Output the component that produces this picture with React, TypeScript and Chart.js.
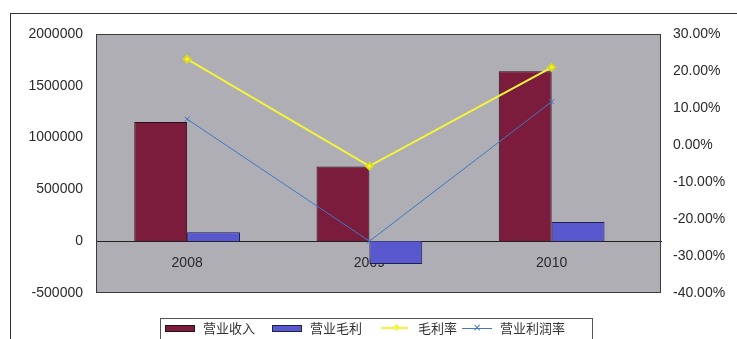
import React, { useEffect, useRef } from "react";
import { Chart, registerables } from "chart.js";

Chart.register(...registerables);

const categories = ["2008", "2009", "2010"];
const revenue = [1150000, 720000, 1640000];
const grossProfit = [86000, -220000, 186000];
const grossMargin = [0.232, -0.057, 0.21];
const operatingMargin = [0.07, -0.26, 0.117];
const leftTicks = [-500000, 0, 500000, 1000000, 1500000, 2000000];
const rightTicks = [-0.4, -0.3, -0.2, -0.1, 0, 0.1, 0.2, 0.3];

const seriesNames = ["营业收入", "营业毛利", "毛利率", "营业利润率"];

const C_RED = "#7b1c3d";
const C_BLUE = "#5a58cf";
const C_YELLOW = "#f4f43a";
const C_LINE = "#3f78c4";
const PLOT_BG = "#aeaeb4";
const TEXT = "#2a2a2a";
const AXIS_FONT = { family: "'Liberation Sans', Arial, sans-serif", size: 14 };

const plotPlugin = {
  id: "plotBg",
  beforeDraw(chart: any) {
    const { ctx, chartArea: a } = chart;
    ctx.save();
    ctx.fillStyle = PLOT_BG;
    ctx.fillRect(a.left, a.top, a.right - a.left, a.bottom - a.top);
    ctx.restore();
  },
  afterDraw(chart: any) {
    const { ctx, chartArea: a } = chart;
    ctx.save();
    ctx.strokeStyle = "#3a3a3a";
    ctx.lineWidth = 1;
    ctx.strokeRect(a.left + 0.5, a.top + 0.5, a.right - a.left - 1, a.bottom - a.top - 1);
    ctx.restore();
  },
};

export default function App() {
  const ref = useRef<HTMLCanvasElement | null>(null);

  useEffect(() => {
    if (!ref.current) return;
    const chart = new Chart(ref.current, {
      type: "bar",
      data: {
        labels: categories,
        datasets: [
          {
            type: "line",
            label: seriesNames[2],
            data: grossMargin,
            yAxisID: "y1",
            borderColor: C_YELLOW,
            backgroundColor: C_YELLOW,
            borderWidth: 2,
            pointStyle: "rectRot",
            pointRadius: 3.5,
            pointBorderColor: "#d8d820",
            pointBackgroundColor: C_YELLOW,
            order: 0,
          },
          {
            type: "line",
            label: seriesNames[3],
            data: operatingMargin,
            yAxisID: "y1",
            borderColor: C_LINE,
            backgroundColor: C_LINE,
            borderWidth: 1,
            pointStyle: "crossRot",
            pointRadius: 3.5,
            pointBorderColor: C_LINE,
            order: 0,
          },
          {
            type: "bar",
            label: seriesNames[0],
            data: revenue,
            yAxisID: "y",
            backgroundColor: C_RED,
            borderColor: "#2a1018",
            borderWidth: 1,
            categoryPercentage: 0.58,
            barPercentage: 1,
            order: 1,
          },
          {
            type: "bar",
            label: seriesNames[1],
            data: grossProfit,
            yAxisID: "y",
            backgroundColor: C_BLUE,
            borderColor: "#1e1e50",
            borderWidth: 1,
            categoryPercentage: 0.58,
            barPercentage: 1,
            order: 1,
          },
        ],
      } as any,
      options: {
        responsive: false,
        animation: false,
        layout: { padding: { top: 34, bottom: 46, left: 0, right: 0 } },
        plugins: {
          legend: { display: false },
          tooltip: { enabled: false },
        },
        scales: {
          x: {
            position: { y: 0 } as any,
            grid: { display: false, drawTicks: false },
            border: { display: true, color: "#222", width: 1 },
            ticks: { color: TEXT, font: AXIS_FONT, padding: 14, maxRotation: 0 },
            afterBuildTicks: (s: any) => {
              s._valueRange = 3.1;
            },
          },
          y: {
            position: "left",
            min: -500000,
            max: 2000000,
            grid: { display: false, drawTicks: false },
            border: { display: false },
            ticks: {
              color: TEXT,
              font: AXIS_FONT,
              padding: 13,
              callback: (v: any) => String(v),
            },
            afterBuildTicks: (s: any) => {
              s.ticks = leftTicks.map((v) => ({ value: v }));
            },
            afterFit: (s: any) => {
              s.width = 96;
            },
          },
          y1: {
            position: "right",
            min: -0.4,
            max: 0.3,
            grid: { display: false, drawTicks: false },
            border: { display: false },
            ticks: {
              color: TEXT,
              font: AXIS_FONT,
              padding: 12,
              callback: (v: any) => (Number(v) * 100).toFixed(2) + "%",
            },
            afterBuildTicks: (s: any) => {
              s.ticks = rightTicks.map((v) => ({ value: v }));
            },
            afterFit: (s: any) => {
              s.width = 76;
            },
          },
        },
      } as any,
      plugins: [plotPlugin],
    });
    return () => chart.destroy();
  }, []);

  const legendFont = "'Noto Sans CJK SC', 'Liberation Sans', sans-serif";
  const textStyle = (left: number): React.CSSProperties => ({
    position: "absolute",
    left,
    top: 319,
    fontFamily: legendFont,
    fontSize: 13,
    lineHeight: "18px",
    color: "#333",
    whiteSpace: "nowrap",
  });

  return (
    <div
      style={{
        position: "absolute",
        left: 0,
        top: 0,
        width: 737,
        height: 339,
        overflow: "hidden",
        background: "#fff",
      }}
    >
      <div
        style={{
          position: "absolute",
          left: 10,
          top: 13,
          width: 740,
          height: 340,
          borderTop: "1px solid #333",
          borderLeft: "1px solid #333",
        }}
      />
      <canvas ref={ref} width={737} height={339} style={{ position: "absolute", left: 0, top: 0 }} />
      <div
        style={{
          position: "absolute",
          left: 160,
          top: 318,
          width: 431,
          height: 40,
          border: "1px solid #555",
        }}
      />
      <div style={{ position: "absolute", left: 165, top: 325, width: 30, height: 7, background: C_RED, border: "1px solid #2a1018", boxSizing: "border-box" }} />
      <div style={textStyle(203)}>{seriesNames[0]}</div>
      <div style={{ position: "absolute", left: 272, top: 325, width: 30, height: 7, background: C_BLUE, border: "1px solid #1e1e50", boxSizing: "border-box" }} />
      <div style={textStyle(310)}>{seriesNames[1]}</div>
      <div style={{ position: "absolute", left: 381, top: 327, width: 27, height: 2, background: C_YELLOW }} />
      <div style={{ position: "absolute", left: 394, top: 325, width: 5, height: 5, background: C_YELLOW, transform: "rotate(45deg)" }} />
      <div style={textStyle(418)}>{seriesNames[2]}</div>
      <div style={{ position: "absolute", left: 462, top: 328, width: 30, height: 1, background: C_LINE }} />
      <div style={{ position: "absolute", left: 473, top: 324, width: 7, height: 8, color: C_LINE, fontSize: 10, lineHeight: "8px", fontFamily: "'DejaVu Sans', sans-serif" }}>×</div>
      <div style={textStyle(500)}>{seriesNames[3]}</div>
    </div>
  );
}
